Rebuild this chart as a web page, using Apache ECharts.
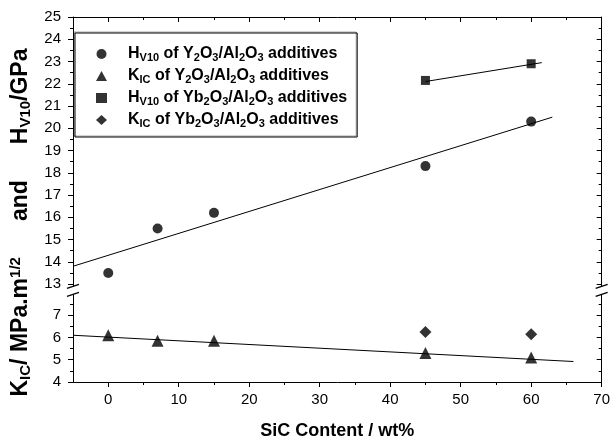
<!DOCTYPE html>
<html>
<head>
<meta charset="utf-8">
<style>html,body{margin:0;padding:0;background:#fff;}#c{width:613px;height:445px;}</style>
<script src="https://cdn.jsdelivr.net/npm/echarts@6/dist/echarts.min.js"></script>
</head>
<body>
<div id="c"></div>
<script>
// ---- data ----
const sicContent = [0, 7, 15, 45, 60];
const hvY2O3 = [13.5, 15.5, 16.2, 18.3, 20.3];
const kicY2O3 = [6.1, 5.85, 5.85, 5.3, 5.1];
const sicYb = [45, 60];
const hvYb2O3 = [22.15, 22.9];
const kicYb2O3 = [6.25, 6.15];
const fitHvY2O3 = [[-5, 13.8], [63, 20.5]];
const fitKicY2O3 = [[-5, 6.1], [66, 4.92]];
const fitHvYb2O3 = [[45, 22.1], [61.5, 22.95]];
const xTicks = [0, 10, 20, 30, 40, 50, 60, 70];
const xMinorTicks = [5, 15, 25, 35, 45, 55, 65];
const yLowerTicks = [4, 5, 6, 7];
const yUpperTicks = [13, 14, 15, 16, 17, 18, 19, 20, 21, 22, 23, 24, 25];
const yLowerMinor = [4.5, 5.5, 6.5, 7.5];
const yUpperMinor = [13.5, 14.5, 15.5, 16.5, 17.5, 18.5, 19.5, 20.5, 21.5, 22.5, 23.5, 24.5];
const breakLevel = 8.12; // position of the axis break (in compressed scale)

const names = [
  'HV10 of Y2O3/Al2O3 additives',
  'KIC of Y2O3/Al2O3 additives',
  'HV10 of Yb2O3/Al2O3 additives',
  'KIC of Yb2O3/Al2O3 additives'
];
const richNames = {};
richNames[names[0]] = '{pad| }{t|H}{s|V10}{t| of Y}{s|2}{t|O}{s|3}{t|/Al}{s|2}{t|O}{s|3}{t| additives}';
richNames[names[1]] = '{pad| }{t|K}{s|IC}{t| of Y}{s|2}{t|O}{s|3}{t|/Al}{s|2}{t|O}{s|3}{t| additives}';
richNames[names[2]] = '{pad| }{t|H}{s|V10}{t| of Yb}{s|2}{t|O}{s|3}{t|/Al}{s|2}{t|O}{s|3}{t| additives}';
richNames[names[3]] = '{pad| }{t|K}{s|IC}{t| of Yb}{s|2}{t|O}{s|3}{t|/Al}{s|2}{t|O}{s|3}{t| additives}';

// broken axis: values above the break are shifted down
const SHIFT = 4.6;
const T = v => (v >= 10 ? v - SHIFT : v);
const FONT = 'Liberation Sans, Arial, sans-serif';

const yMajor = yLowerTicks.concat(yUpperTicks).map(T);
const yMinor = yLowerMinor.concat(yUpperMinor).map(T);
const yMin = T(yLowerTicks[0]);
const yMax = T(yUpperTicks[yUpperTicks.length - 1]);

const line = {show: true, onZero: false, lineStyle: {color: '#000', width: 1}};
const noLine = {show: false, onZero: false};
function xAxisDef(pos, vals, len, inside, labels, showLine, extra) {
  return Object.assign({
    type: 'value', position: pos, min: -5, max: 70,
    axisLine: showLine ? line : noLine,
    axisTick: {show: true, customValues: vals, length: len, inside: inside, lineStyle: {color: '#000', width: 1}},
    axisLabel: labels ? {show: true, customValues: vals, margin: 10, fontSize: 15, color: '#000', fontFamily: FONT} : {show: false},
    splitLine: {show: false}
  }, extra || {});
}
function yAxisDef(pos, vals, len, inside, labels, showLine, extra) {
  return Object.assign({
    type: 'value', position: pos, min: yMin, max: yMax,
    axisLine: showLine ? line : noLine,
    axisTick: {show: true, customValues: vals, length: len, inside: inside, lineStyle: {color: '#000', width: 1}},
    axisLabel: labels ? {
      show: true, customValues: vals, margin: 12, fontSize: 15, color: '#000', fontFamily: FONT,
      formatter: v => String(Math.round(v <= 7.6 ? v : v + SHIFT))
    } : {show: false},
    splitLine: {show: false}
  }, extra || {});
}

const chart = echarts.init(document.getElementById('c'), null, {renderer: 'canvas'});
const option = {
  animation: false,
  backgroundColor: '#fff',
  grid: {left: 72, right: 10, top: 17, bottom: 55},
  legend: {
    data: names.map((n, i) => ({name: n, icon: ['circle', 'triangle', 'rect', 'diamond'][i]})),
    orient: 'vertical', left: 75, top: 33,
    itemWidth: 11, itemHeight: 10, itemGap: 5,
    padding: [13, 10, 8, 21],
    borderColor: '#000', borderWidth: 1,
    shadowColor: 'rgba(0,0,0,0.35)', shadowBlur: 0, shadowOffsetX: -1, shadowOffsetY: -1,
    selectedMode: false,
    formatter: n => richNames[n],
    textStyle: {
      color: '#000', fontFamily: FONT,
      rich: {
        pad: {width: 16, fontSize: 16},
        t: {fontSize: 16, fontWeight: 'bold', fontFamily: FONT, color: '#000', lineHeight: 18},
        s: {fontSize: 11, fontWeight: 'bold', fontFamily: FONT, color: '#000', lineHeight: 11, verticalAlign: 'bottom'}
      }
    }
  },
  xAxis: [
    xAxisDef('bottom', xTicks, 5, false, true, true, {
      name: 'SiC Content / wt%', nameLocation: 'middle', nameGap: 40,
      nameTextStyle: {fontSize: 18, fontWeight: 'bold', color: '#000', fontFamily: FONT}
    }),
    xAxisDef('bottom', xMinorTicks, 3, false, false, false),
    xAxisDef('top', xTicks, 5, true, false, true),
    xAxisDef('top', xMinorTicks, 3, true, false, false)
  ],
  yAxis: [
    yAxisDef('left', yMajor, 5, false, true, true, {
      name: '{b|K}{s|IC}{b|/ MPa.m}{p|1/2}{g| }{b|and}{g| }{b|H}{s|V10}{b|/GPa}{e| }',
      nameLocation: 'middle', nameRotate: 90, nameGap: 40,
      nameTextStyle: {
        color: '#000', fontFamily: FONT,
        rich: {
          b: {fontSize: 23, fontWeight: 'bold', fontFamily: FONT, color: '#000', lineHeight: 25},
          s: {fontSize: 15, fontWeight: 'bold', fontFamily: FONT, color: '#000', lineHeight: 14, verticalAlign: 'bottom'},
          p: {fontSize: 15, fontWeight: 'bold', fontFamily: FONT, color: '#000', lineHeight: 13, verticalAlign: 'top'},
          g: {fontSize: 22, width: 36},
          e: {fontSize: 22, width: 46}
        }
      }
    }),
    yAxisDef('left', yMinor, 3, false, false, false),
    yAxisDef('right', yMajor, 5, true, false, true),
    yAxisDef('right', yMinor, 3, true, false, false)
  ],
  series: [
    {name: names[0], type: 'scatter', symbol: 'circle', symbolSize: 10, itemStyle: {color: '#000'},
     data: sicContent.map((x, i) => [x, T(hvY2O3[i])])},
    {name: names[1], type: 'scatter', symbol: 'triangle', symbolSize: 12, itemStyle: {color: '#000'},
     data: sicContent.map((x, i) => [x, T(kicY2O3[i])])},
    {name: names[2], type: 'scatter', symbol: 'rect', symbolSize: 9, itemStyle: {color: '#000'},
     data: sicYb.map((x, i) => [x, T(hvYb2O3[i])])},
    {name: names[3], type: 'scatter', symbol: 'diamond', symbolSize: 12, itemStyle: {color: '#000'},
     data: sicYb.map((x, i) => [x, T(kicYb2O3[i])])},
    {type: 'line', showSymbol: false, lineStyle: {color: '#000', width: 1}, data: fitHvY2O3.map(p => [p[0], T(p[1])]), z: 1},
    {type: 'line', showSymbol: false, lineStyle: {color: '#000', width: 1}, data: fitKicY2O3.map(p => [p[0], T(p[1])]), z: 1},
    {type: 'line', showSymbol: false, lineStyle: {color: '#000', width: 1}, data: fitHvYb2O3.map(p => [p[0], T(p[1])]), z: 1},
    {
      type: 'custom', clip: false, silent: true, z: 10,
      data: [[-5, breakLevel], [70, breakLevel]],
      renderItem: (params, api) => {
        const p = api.coord([api.value(0), api.value(1)]);
        const st = {stroke: '#000', lineWidth: 1.3};
        return {type: 'group', children: [
          {type: 'rect', shape: {x: p[0] - 2, y: p[1] - 4, width: 4, height: 8}, style: {fill: '#fff'}},
          {type: 'line', shape: {x1: p[0] - 6, y1: p[1] - 2, x2: p[0] + 6, y2: p[1] - 6}, style: st},
          {type: 'line', shape: {x1: p[0] - 6, y1: p[1] + 6, x2: p[0] + 6, y2: p[1] + 2}, style: st}
        ]};
      }
    }
  ]
};
chart.setOption(option);
</script>
</body>
</html>
